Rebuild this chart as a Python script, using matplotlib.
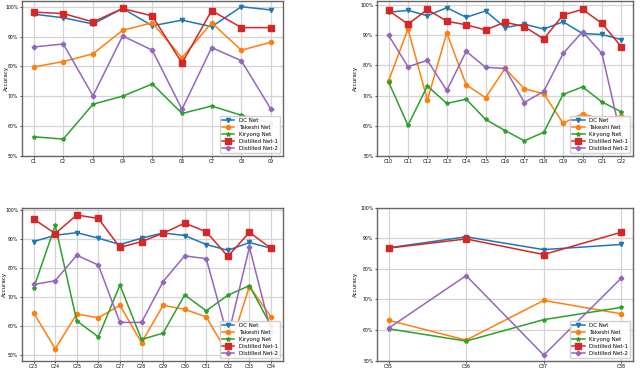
import matplotlib
matplotlib.use('Agg')
import matplotlib.pyplot as plt
from matplotlib.ticker import FuncFormatter

names = ['DC Net', 'Takeshi Net', 'Kiryong Net', 'Distilled Net-1', 'Distilled Net-2']
markers = ['v', 'o', '*', 's', 'P']

cats1 = ['C%d' % i for i in range(1, 10)]
dc1 = [97.5, 96.3, 94.2, 99.4, 93.6, 95.5, 93.3, 100.0, 98.9]
tk1 = [79.8, 81.6, 84.2, 92.1, 94.6, 82.9, 94.6, 85.4, 88.1]
ky1 = [56.4, 55.6, 67.3, 70.0, 74.1, 64.2, 66.7, 63.6, 61.0]
d1_1 = [98.2, 97.7, 94.9, 99.4, 96.9, 81.1, 98.7, 93.0, 93.0]
d2_1 = [86.5, 87.5, 70.1, 90.2, 85.4, 65.6, 86.3, 81.9, 65.6]

cats2 = ['C%d' % i for i in range(10, 23)]
dc2 = [97.7, 98.3, 96.5, 99.2, 96.0, 98.1, 92.6, 93.7, 92.1, 94.5, 90.6, 90.3, 88.6]
tk2 = [74.9, 92.1, 68.5, 90.8, 73.6, 69.3, 79.0, 72.3, 70.6, 60.8, 64.0, 62.0, 63.3]
ky2 = [74.5, 60.1, 73.2, 67.4, 68.8, 62.1, 58.4, 55.0, 57.8, 70.4, 72.9, 67.9, 64.6]
d1_2 = [98.3, 93.7, 98.6, 94.7, 93.5, 91.8, 94.4, 92.9, 88.8, 96.8, 98.6, 94.0, 86.2]
d2_2 = [90.0, 79.6, 81.7, 71.7, 84.7, 79.4, 79.0, 67.7, 71.4, 84.0, 91.2, 84.0, 56.0]

cats3 = ['C%d' % i for i in range(23, 35)]
dc3 = [89.1, 91.3, 92.2, 90.3, 88.1, 90.3, 92.1, 91.2, 88.1, 86.1, 88.8, 86.8]
tk3 = [64.5, 52.1, 64.1, 62.8, 67.1, 54.2, 67.1, 65.7, 63.1, 50.3, 73.6, 63.1]
ky3 = [73.0, 94.7, 61.7, 56.2, 74.1, 55.3, 57.5, 70.7, 65.2, 70.6, 73.9, 60.0]
d1_3 = [96.9, 91.9, 98.3, 97.1, 87.1, 89.1, 92.0, 95.5, 92.5, 84.0, 92.3, 86.8]
d2_3 = [74.3, 75.6, 84.4, 81.0, 61.2, 61.2, 75.3, 84.2, 83.2, 56.2, 87.2, 58.0]

cats4 = ['C35', 'C36', 'C37', 'C38']
dc4 = [86.9, 90.5, 86.3, 88.0]
tk4 = [63.2, 56.7, 69.7, 65.3]
ky4 = [60.4, 56.4, 63.4, 67.4]
d1_4 = [86.8, 89.8, 84.7, 92.0]
d2_4 = [60.6, 77.8, 51.8, 77.0]

panels = [
    (cats1, [dc1, tk1, ky1, d1_1, d2_1], [0.034, 0.580, 0.408, 0.418], (50, 102), -0.05),
    (cats2, [dc2, tk2, ky2, d1_2, d2_2], [0.589, 0.580, 0.400, 0.418], (50, 101.5), -0.075),
    (cats3, [dc3, tk3, ky3, d1_3, d2_3], [0.034, 0.028, 0.408, 0.412], (48, 100.8), -0.055),
    (cats4, [dc4, tk4, ky4, d1_4, d2_4], [0.589, 0.028, 0.400, 0.412], (50, 100), -0.075),
]

fig = plt.figure(figsize=(6.4, 3.71), dpi=100)
for cats, series, pos, ylim, lx in panels:
    ax = fig.add_axes(pos)
    for i, vals in enumerate(series):
        ms = 4 if markers[i] == 's' else 3
        ax.plot(cats, vals, marker=markers[i], color='C%d' % i, lw=1.1,
                ms=ms, label=names[i])
    ax.set_ylim(*ylim)
    ax.set_yticks([50, 60, 70, 80, 90, 100])
    ax.yaxis.set_major_formatter(FuncFormatter(lambda v, p: '%d%%' % v))
    ax.grid(True, color='#d4d4d4', lw=0.9)
    ax.set_axisbelow(True)
    ax.tick_params(labelsize=3.3, length=1.5, width=0.5, pad=1)
    for s in ax.spines.values():
        s.set_color('#666666')
        s.set_linewidth(1)
    ax.set_ylabel('Accuracy', fontsize=4)
    ax.yaxis.set_label_coords(lx, 0.5)
    ax.legend(loc='lower right', fontsize=4, handlelength=2.2,
              borderpad=0.4, labelspacing=0.35, framealpha=0.9)

fig.savefig('out.png', dpi=100)
